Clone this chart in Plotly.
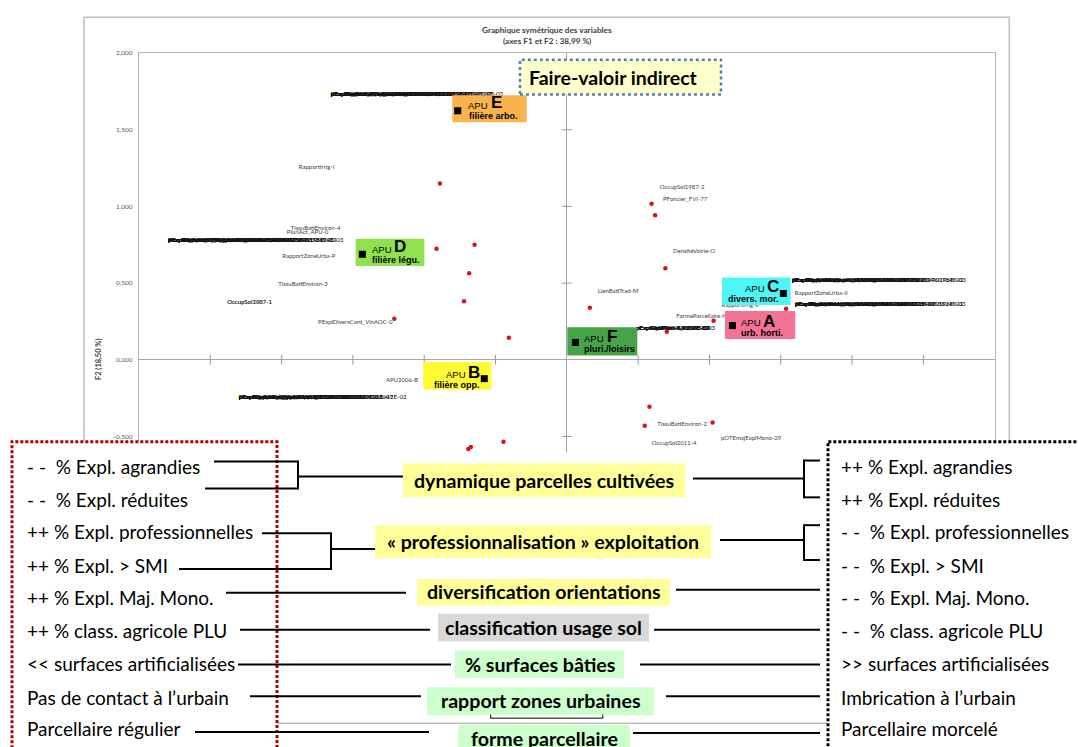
import plotly.graph_objects as go

W, H = 1078, 747

# ---------------- data ----------------
# variables (red points) : coordinates on F1 / F2
var_f1 = [-0.890, 0.594, 0.619, -0.914, -0.647, -0.685, 0.691, -0.721, 0.161, -1.210,
          -0.407, 1.537, 1.029, 0.701, 0.579, 0.546, 1.022, -0.444, -0.691, -0.673]
var_f2 = [1.150, 1.018, 0.943, 0.724, 0.750, 0.564, 0.597, 0.381, 0.339, 0.268,
          0.143, 0.332, 0.254, 0.183, -0.307, -0.430, -0.409, -0.534, -0.581, -0.569]

# isolated variable labels
label_text = ["Rapportirrig-I", "TissuBatiEnviron-4", "PluriAct_APU-0", "RapportZoneUrba-P",
              "TissuBatiEnviron-3", "OccupSol2007-1", "OccupSol1987-1", "PExplDiversCont_VinAOC-0",
              "APU2006-B", "OccupSol1987-2", "PFoncier_FVI-77", "DensiteVoirie-O", "LienBatiTrad-M",
              "FormeParcellaire-N", "RapportIrrig-II", "RapportZoneUrba-II", "TissuBatiEnviron-2",
              "OccupSol2011-4", "pOTEmajExplMono-29"]
label_f1 = [-1.755, -1.762, -1.818, -1.809, -1.850, -2.224, -2.224, -1.483, -1.156, 0.808,
            0.829, 0.892, 0.359, 0.945, 1.215, 1.783, 0.808, 0.752, 1.292]
label_f2 = [1.256, 0.854, 0.831, 0.673, 0.489, 0.374, 0.374, 0.244, -0.134, 1.126,
            1.044, 0.703, 0.444, 0.283, 0.357, 0.435, -0.419, -0.549, -0.512]

# clusters of overlapping labels (same point, several variables)
cluster_f1 = [-1.655, -2.797, -2.300, 0.484, 1.578, 1.599]
cluster_f2 = [1.732, 0.778, -0.244, 0.206, 0.515, 0.359]
cluster_texts = [
    ["pExplAgrandiesFVI-9,80392156862745E-03",
     "pExplReduitesFVI-1,96078431372549E-02",
     "pExplProfessionnellesFVI-5,88235294117647E-03",
     "pExplSupSMI_FVI-3,92156862745098E-03",
     "pExplMajMonoFVI_ClassAgriPLU-7,84313725490196E-03",
     "pSurfArtificialiseesFVI_TissuBati-1,37254901960784E-03",
     "PExplDiversFVI_Legumes-4,90196078431373E-03",
     "pPartFVI_SAU_ExplLoc-8,82352941176471E-03",
     "pExplProfess_FVI_ParcellesCultivees-1,17647058823529E-03"],
    ["PExplAgrandiesVFD-5,88235294117647E-03",
     "pExplReduitesVFD-9,80392156862745E-03",
     "pExplProfessionnellesVFD-3,92156862745098E-03",
     "pExplSupSMI_VFD-1,96078431372549E-02",
     "pExplMajMonoVFD_ClassAgriPLU-7,84313725490196E-03",
     "pSurfBatiesVFD_RapportZoneUrba-1,37254901960784E-03",
     "PExplDiversVFD_Legumes-4,90196078431373E-03",
     "pPartVFD_SAU_ExplLoc-8,82352941176471E-03",
     "pExplProfess_VFD_ParcellesCultivees-2,94117647058824E-03"],
    ["pExplAgrandiesOpp-1,96078431372549E-02",
     "pExplReduitesOpp-9,80392156862745E-03",
     "pExplProfessionnellesOpp-5,88235294117647E-03",
     "pExplSupSMI_Opp-3,92156862745098E-03",
     "pExplMajMonoOpp_ClassAgri-7,84313725490196E-03",
     "PExplDiversOpp_Cereales-4,90196078431373E-03",
     "pPartOpp_SAU_ExplLoc-8,82352941176471E-03",
     "pSurfBatiesOpp_ZoneUrba-1,76470588235294117647E-02"],
    ["pExplAgrPluri-9,8039E-03",
     "pExplRedPluri-1,9607E-02",
     "pExplProfPluri-5,8823E-03",
     "pExplSMIPluri-3,9215E-03",
     "pExplMonoPluri-7,8431E-03",
     "pExplLoisPluri-4,9019E-03"],
    ["pExplAgrandiesDivers-9,80392156862745E-03",
     "pExplReduitesDivers-1,96078431372549E-02",
     "pExplProfessDivers-5,88235294117647E-03",
     "pExplSupSMIDivers-3,92156862745098E-03",
     "pExplMajMonoDivers_ClassAgriPLU-7,84313725490196E-03",
     "PExplDiversMor_Horti-4,90196078431373E-03",
     "pPartMor_SAU_ExplLoc-8,82352941176471E-03",
     "pSurfBatiesDivers_ParcellesCultivees-1,37254901960784E-03"],
    ["pExplAgrandiesHorti-5,88235294117647E-03",
     "pExplReduitesHorti-1,96078431372549E-02",
     "pExplProfessHorti-9,80392156862745E-03",
     "pExplSupSMIHorti-3,92156862745098E-03",
     "pExplMajMonoHorti_ClassAgriPLU-7,84313725490196E-03",
     "PExplDiversHorti_Serres-4,90196078431373E-03",
     "pPartHorti_SAU_ExplLoc-8,82352941176471E-03",
     "pSurfBatiesHorti_ParcellesCultivees-2,94117647058824E-03"],
]

# APU (individuals, black squares)
apu_letter = ["A", "B", "C", "D", "E", "F"]
apu_sub = ["urb. horti.", "filière opp.", "divers. mor.", "filière légu.", "filière arbo.", "pluri./loisirs"]
apu_f1 = [1.161, -0.579, 1.518, -1.434, -0.765, 0.060]
apu_f2 = [0.223, -0.123, 0.433, 0.688, 1.624, 0.113]

x_ticks = [-2.5, -2.0, -1.5, -1.0, -0.5, 0.5, 1.0, 1.5, 2.0, 2.5]
y_ticks = [-1.5, -1.0, -0.5, 0.5, 1.0, 1.5]
y_ticklabels = [-0.5, 0.0, 0.5, 1.0, 1.5, 2.0]   # the lower ones are hidden by the legend panel

title_lines = ["Graphique symétrique des variables", "(axes F1 et F2 : 38,99 %)"]
y_title = "F2 (18,50 %)"
fvi_text = "Faire-valoir indirect"

mid_labels = ["dynamique parcelles cultivées", "« professionnalisation » exploitation",
              "diversification orientations", "classification usage sol",
              "% surfaces bâties", "rapport zones urbaines", "forme parcellaire"]
left_labels = ["-&nbsp;-&nbsp;&nbsp;% Expl. agrandies", "-&nbsp;-&nbsp;&nbsp;% Expl. réduites",
               "++ % Expl. professionnelles", "++ % Expl. &gt; SMI", "++ % Expl. Maj. Mono.",
               "++ % class. agricole PLU", "&lt;&lt; surfaces artificialisées",
               "Pas de contact à l’urbain", "Parcellaire régulier"]
right_labels = ["++ % Expl. agrandies", "++ % Expl. réduites",
                "-&nbsp;-&nbsp;&nbsp;% Expl. professionnelles", "-&nbsp;-&nbsp;&nbsp;% Expl. &gt; SMI",
                "-&nbsp;-&nbsp;&nbsp;% Expl. Maj. Mono.", "-&nbsp;-&nbsp;&nbsp;% class. agricole PLU",
                "&gt;&gt; surfaces artificialisées", "Imbrication à l’urbain", "Parcellaire morcelé"]

# ---------------- layout geometry (pixels) ----------------
PX0, PX1 = 139.0, 994.7     # plot area left/right
PY0, PY1 = 49.3, 666.1      # plot area top/bottom
XR, YR = (-3, 3), (-2, 2)


def px(x):
    return x / W


def py(y):
    return 1 - y / H


def dx(p):
    return XR[0] + (p - PX0) / (PX1 - PX0) * (XR[1] - XR[0])


def dy(p):
    return YR[1] - (p - PY0) / (PY1 - PY0) * (YR[1] - YR[0])


fig = go.Figure()

# axis cross tick marks
fig.add_trace(go.Scatter(x=x_ticks, y=[0] * len(x_ticks), mode="markers",
                         marker=dict(symbol="line-ns-open", size=7, color="#9A9A9A",
                                     line=dict(color="#9A9A9A", width=1)),
                         hoverinfo="skip", showlegend=False))
fig.add_trace(go.Scatter(x=[0] * len(y_ticks), y=y_ticks, mode="markers",
                         marker=dict(symbol="line-ew-open", size=7, color="#9A9A9A",
                                     line=dict(color="#9A9A9A", width=1)),
                         hoverinfo="skip", showlegend=False))

# labels
fig.add_trace(go.Scatter(x=label_f1, y=label_f2, text=label_text, mode="text",
                         textposition="middle center",
                         textfont=dict(family="Lato", size=6, color="#404040"),
                         hoverinfo="skip", showlegend=False))
for cx, cy, texts in zip(cluster_f1, cluster_f2, cluster_texts):
    fig.add_trace(go.Scatter(x=[cx] * len(texts), y=[cy] * len(texts), text=texts, mode="text",
                             textposition="middle right",
                             textfont=dict(family="Lato", size=6.3, color="#111111"),
                             hoverinfo="skip", showlegend=False))

# red points
fig.add_trace(go.Scatter(x=var_f1, y=var_f2, mode="markers",
                         marker=dict(color="#D7141E", size=4.5),
                         hoverinfo="skip", showlegend=False))

# APU coloured boxes (pixels: x0, x1, y0, y1)
apu_box = {
    "A": (725.0, 795.3, 308.7, 336.7, "#F27394"),
    "B": (423.3, 491.5, 360.0, 387.5, "#FFFA33"),
    "C": (722.0, 790.7, 275.0, 302.7, "#4FF6F6"),
    "D": (355.7, 424.4, 236.0, 263.3, "#8FE24E"),
    "E": (452.3, 526.7, 91.7, 119.0, "#F9B24C"),
    "F": (567.3, 637.3, 325.0, 353.3, "#46A348"),
}
for k in apu_letter:
    x0, x1, y0, y1, col = apu_box[k]
    fig.add_trace(go.Scatter(x=[dx(x0), dx(x1), dx(x1), dx(x0), dx(x0)],
                             y=[dy(y0), dy(y0), dy(y1), dy(y1), dy(y0)],
                             mode="lines", fill="toself", fillcolor=col,
                             line=dict(width=0, color=col), hoverinfo="skip", showlegend=False))

fig.add_trace(go.Scatter(x=apu_f1, y=apu_f2, mode="markers",
                         marker=dict(color="black", size=7, symbol="square"),
                         hoverinfo="skip", showlegend=False))

shapes = []
annotations = []


def rect(x0, y0, x1, y1, fill=None, line=None, lw=0, dash=None, layer="above"):
    shapes.append(dict(type="rect", xref="paper", yref="paper",
                       x0=px(x0), x1=px(x1), y0=py(y1), y1=py(y0),
                       fillcolor=fill if fill else "rgba(0,0,0,0)",
                       line=dict(color=line if line else "rgba(0,0,0,0)", width=lw, dash=dash),
                       layer=layer))


def seg(x0, y0, x1, y1, color="black", lw=2):
    shapes.append(dict(type="line", xref="paper", yref="paper",
                       x0=px(x0), x1=px(x1), y0=py(y0), y1=py(y1),
                       line=dict(color=color, width=lw), layer="above"))


def text(t, x, y, size, family="Lato", color="black", xanchor="center", angle=0):
    annotations.append(dict(text=t, x=px(x), y=py(y), xref="paper", yref="paper",
                            xanchor=xanchor, yanchor="middle", showarrow=False,
                            textangle=angle, borderpad=0,
                            font=dict(family=family, size=size, color=color)))


# outer chart frame
rect(84, 13.3, 1009.3, 723, line="#BFBFBF", lw=1.5, layer="below")

# chart title / axis title
text("<b>" + title_lines[0] + "</b>", 547, 26, 8.2, color="#404040")
text("<b>" + title_lines[1] + "</b>", 547, 37, 8.2, color="#404040")
text("<b>" + y_title + "</b>", 98, 357, 7.5, color="#404040", angle=-90)

# Faire-valoir indirect
rect(520, 56, 721, 91, fill="#FFFFCC", line="#4F81BD", lw=2.5, dash="3px,3px")
text("<b>" + fvi_text + "</b>", 528, 73.5, 19.5, xanchor="left")

# APU texts
apu_txt = {
    "A": ((740, 320.7), (762, 319), (740, 331)),
    "B": ((445, 372), (467, 370), (433, 383)),
    "C": ((744.3, 285.7), (766, 284), (726.7, 296.7)),
    "D": ((370.7, 246.7), (392.5, 244.3), (371, 257.3)),
    "E": ((466.7, 101.7), (489.5, 99.5), (467.7, 112.7)),
    "F": ((583, 336), (605.5, 334), (583, 347.3)),
}
for k, sub in zip(apu_letter, apu_sub):
    (ax, ay), (lx, ly), (sx, sy) = apu_txt[k]
    text("APU", ax, ay, 9.5, family="Liberation Sans", xanchor="left")
    text("<b>" + k + "</b>", lx, ly, 17, family="Liberation Sans", xanchor="left")
    text("<b>" + sub + "</b>", sx, sy, 9, family="Liberation Sans", xanchor="left")

# ---------------- bottom overlay ----------------
rect(-5, 451, W + 5, H + 5, fill="white")
seg(277, 723, 828, 723, color="#BDBDBD", lw=1.5)
rect(12, 440, 277, H + 6, fill="white", line="#B00000", lw=3, dash="3px,2px")
rect(828, 440, W + 6, H + 6, fill="white", line="black", lw=3, dash="3px,2px")

row_y = [465, 498.3, 530.7, 564.5, 596.8, 630, 663.3, 696.8, 728.7]
for t, yy in zip(left_labels, row_y):
    text(t, 25.8, yy, 19, xanchor="left")
for t, yy in zip(right_labels, row_y):
    text(t, 839.6, yy, 19, xanchor="left")

mid_box = [
    (403, 685, 462, 496, "#FFFF99"),
    (375, 711, 524, 557, "#FFFF99"),
    (417, 670, 578, 605, "#FFFF99"),
    (438, 649, 613, 641, "#D9D9D9"),
    (455, 624, 650, 678, "#CCFFCC"),
    (427, 654, 687, 715, "#CCFFCC"),
    (458, 630, 725, H + 5, "#CCFFCC"),
]
mid_text_y = [479, 540, 591, 627, 664, 700, 738]
for (x0, x1, y0, y1, col), t, ty in zip(mid_box, mid_labels, mid_text_y):
    rect(x0, y0, x1, y1, fill=col)
    text("<b>" + t + "</b>", (x0 + x1) / 2, ty, 19.6)

# connector lines, left side
for s in [(214, 460, 298, 460), (205, 487, 298, 487), (298, 459, 298, 488), (298, 475, 403, 475),
          (262, 532, 331, 532), (179, 568, 331, 568), (331, 531, 331, 569), (331, 548, 375, 548),
          (226, 592, 406, 592), (240, 629, 430, 629), (238, 664, 451, 664),
          (250, 696, 421, 696), (195, 732, 429, 732)]:
    seg(*s)
# connector lines, right side
for s in [(693, 477, 804, 477), (804, 458, 804, 497), (804, 459, 820, 459), (804, 496, 820, 496),
          (720, 539, 804, 539), (804, 523, 804, 560), (804, 524, 820, 524), (804, 559, 820, 559),
          (676, 589, 820, 589), (654, 629, 820, 629), (640, 664, 820, 664),
          (666, 696, 820, 696), (633, 733, 820, 733)]:
    seg(*s)
# small bracket under "rapport zones urbaines"
seg(490.7, 714.5, 490.7, 718, lw=1)
seg(490.7, 718, 602.8, 718, lw=1)
seg(602.8, 714.5, 602.8, 718, lw=1)

axis_common = dict(showgrid=False, zeroline=True, zerolinecolor="#A6A6A6", zerolinewidth=1,
                   showline=True, mirror=True, linecolor="#B4B4B4", linewidth=1.2, ticks="")

fig.update_layout(
    width=W, height=H, autosize=False,
    margin=dict(l=0, r=0, t=0, b=0, pad=0),
    paper_bgcolor="white", plot_bgcolor="rgba(0,0,0,0)",
    separators=", ",
    showlegend=False,
    xaxis=dict(domain=[px(PX0), px(PX1)], range=list(XR), showticklabels=False, **axis_common),
    yaxis=dict(domain=[py(PY1), py(PY0)], range=list(YR), tickmode="array", tickvals=y_ticklabels,
               tickformat=".3f",
               tickfont=dict(family="Lato", size=6.5, color="#595959"), ticklabelstandoff=4,
               **axis_common),
    shapes=shapes,
    annotations=annotations,
)

fig.write_html("out.html", config={"displayModeBar": False},
               post_script="document.body.style.margin='0';document.body.style.overflow='hidden';")
